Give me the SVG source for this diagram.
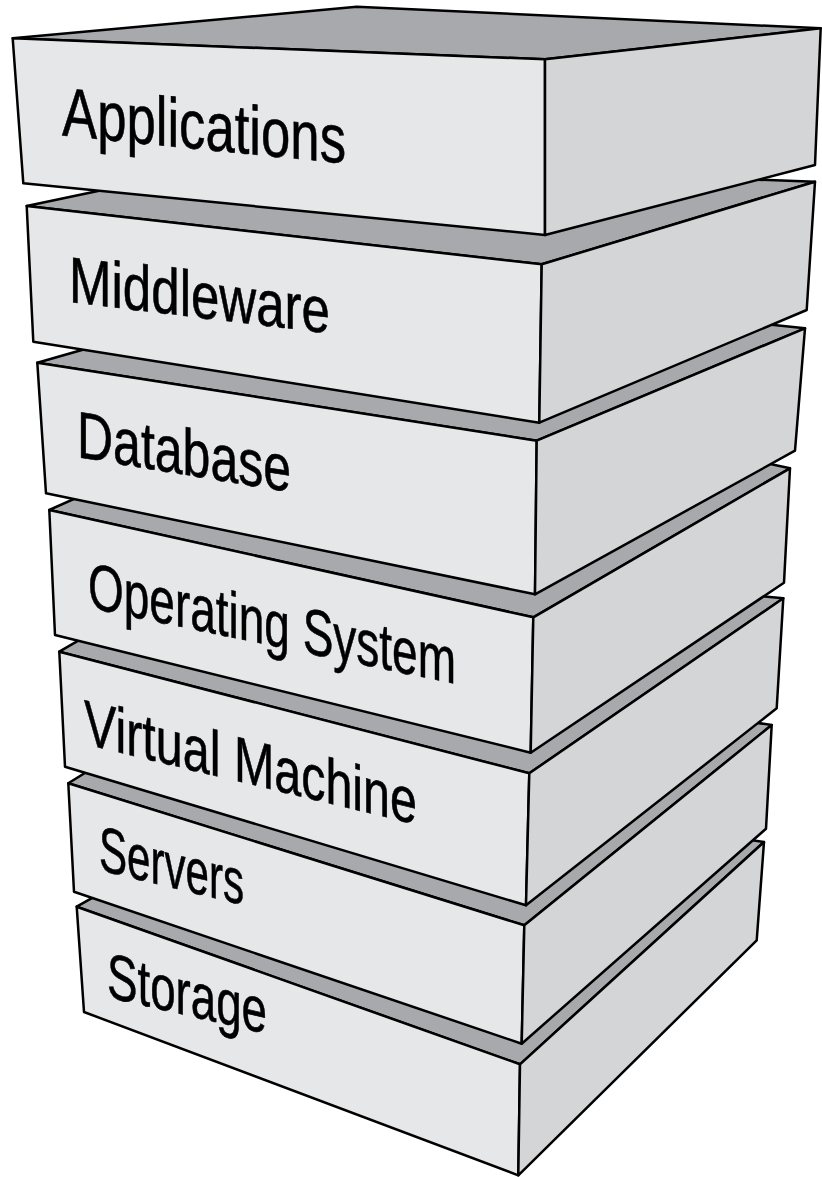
<svg xmlns="http://www.w3.org/2000/svg" width="822" height="1177" viewBox="0 0 822 1177">
<style>
  .top{fill:#a7a9ac;stroke:#000;stroke-width:2.5;stroke-linejoin:round}
  .front{fill:#e6e7e8;stroke:#000;stroke-width:2.5;stroke-linejoin:round}
  .side{fill:#d4d5d7;stroke:#000;stroke-width:2.5;stroke-linejoin:round}
  .lbl{font-family:"Liberation Sans","Arial",sans-serif;fill:#000;stroke:#000;stroke-width:0.6}
</style>
<rect width="822" height="1177" fill="#fff"/>

<g id="storage">
  <polygon class="top" points="76.7,906.7 313,774 764,842 520,1064.3"/>
  <polygon class="front" points="76.7,906.7 520,1064.3 518.3,1175.3 84,1012"/>
  <polygon class="side" points="520,1064.3 764,842 756.7,940.3 518.3,1175.3"/>
  <text class="lbl" font-size="64" transform="matrix(1 0.23 0 1 107 997)" textLength="160" lengthAdjust="spacingAndGlyphs">Storage</text>
</g>

<g id="servers">
  <polygon class="top" points="68.3,783.3 278.5,652.9 771.7,725 524.3,925.3"/>
  <polygon class="front" points="68.3,783.3 524.3,925.3 521.7,1043.7 74,891.7"/>
  <polygon class="side" points="524.3,925.3 771.7,725 766,828.7 521.7,1043.7"/>
  <text class="lbl" font-size="64" transform="matrix(1 0.243 0 1 99 870)" textLength="145" lengthAdjust="spacingAndGlyphs">Servers</text>
</g>

<g id="virtual-machine">
  <polygon class="top" points="59.3,651.7 241,546.5 783.3,598.3 529.3,773.3"/>
  <polygon class="front" points="59.3,651.7 529.3,773.3 526,905.3 65,766.7"/>
  <polygon class="side" points="529.3,773.3 783.3,598.3 776.7,708.3 526,905.3"/>
  <text class="lbl" font-size="64" transform="matrix(1 0.242 0 1 84 744)" textLength="333" lengthAdjust="spacingAndGlyphs">Virtual Machine</text>
</g>

<g id="operating-system">
  <polygon class="top" points="49.3,510 353,374.5 790,468.3 533.3,617.3"/>
  <polygon class="front" points="49.3,510 533.3,617.3 530.7,752.7 55,635"/>
  <polygon class="side" points="533.3,617.3 790,468.3 784,582.7 530.7,752.7"/>
  <text class="lbl" font-size="65" transform="matrix(1 0.208 0 1 88 607.5)" textLength="368" lengthAdjust="spacingAndGlyphs">Operating System</text>
</g>

<g id="database">
  <polygon class="top" points="37.3,362.7 330,279 805,328.3 536.7,440.7"/>
  <polygon class="front" points="37.3,362.7 536.7,440.7 535,594.3 46,493.3"/>
  <polygon class="side" points="536.7,440.7 805,328.3 795,450.7 535,594.3"/>
  <text class="lbl" font-size="66" transform="matrix(1 0.164 0 1 77 457)" textLength="214" lengthAdjust="spacingAndGlyphs">Database</text>
</g>

<g id="middleware">
  <polygon class="top" points="26.7,206 238,161.5 815,181.7 541.7,264.3"/>
  <polygon class="front" points="26.7,206 541.7,264.3 539.3,422.7 33.3,341.7"/>
  <polygon class="side" points="541.7,264.3 815,181.7 806.7,310 539.3,422.7"/>
  <text class="lbl" font-size="65" transform="matrix(1 0.12 0 1 69 302)" textLength="261" lengthAdjust="spacingAndGlyphs">Middleware</text>
</g>

<g id="applications">
  <polygon class="top" points="12.7,38.3 356.7,6.7 820.7,28.3 545,59.3"/>
  <polygon class="front" points="12.7,38.3 545,59.3 545,235 23.3,183.3"/>
  <polygon class="side" points="545,59.3 820.7,28.3 815,165 545,235"/>
  <text class="lbl" font-size="69" transform="matrix(1 0.099 0 1 62 135.5)" textLength="284" lengthAdjust="spacingAndGlyphs">Applications</text>
</g>
</svg>
